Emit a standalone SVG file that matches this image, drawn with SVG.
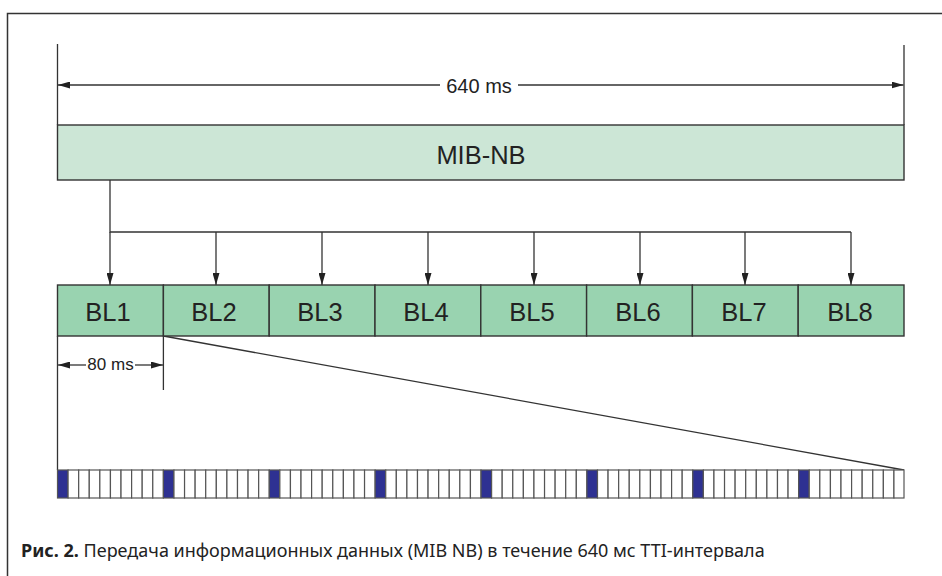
<svg xmlns="http://www.w3.org/2000/svg" width="942" height="576" viewBox="0 0 942 576">
<style>
.ln{stroke:#333;stroke-width:1.3;fill:none}
.mib{fill:#cce6d6;stroke:#333;stroke-width:1.4}
.bl{fill:#99d3b0;stroke:#333;stroke-width:1.4}
.lbl{font-family:"Liberation Sans",Arial,Helvetica,sans-serif;fill:#222;text-anchor:middle}
.big{font-size:25.5px}
.w{fill:#fff;stroke:#555;stroke-width:1.2}
.f{fill:#2e3192;stroke:#555;stroke-width:1.2}
.cap{font-family:"Noto Sans","Open Sans",sans-serif;font-size:18px;fill:#222}
</style>
<defs>
<marker id="ah" viewBox="0 0 12 7" refX="12" refY="3.5" markerWidth="12" markerHeight="7" markerUnits="userSpaceOnUse" orient="auto-start-reverse">
<path d="M0,0 L12,3.5 L0,7 Z" fill="#222"/>
</marker>
</defs>
<rect width="942" height="576" fill="#fff"/>
<path d="M7.5,576 V13.5 H942" fill="none" stroke="#333" stroke-width="1.5"/>

<g id="dim640">
<path class="ln" d="M57.5,44 V125 M904,45 V125"/>
<path class="ln" d="M58,85 H440" marker-start="url(#ah)"/>
<path class="ln" d="M518,85 H903.5" marker-end="url(#ah)"/>
<text class="lbl" x="479" y="92.5" font-size="20">640 ms</text>
</g>

<g id="mib">
<rect class="mib" x="57.5" y="125" width="846.5" height="55"/>
<text class="lbl big" x="481" y="164">MIB-NB</text>
</g>

<g id="connectors">
<path class="ln" d="M110,180 V232 H851"/>
<path class="ln" d="M110,232 V285" marker-end="url(#ah)"/>
<path class="ln" d="M216,232 V285" marker-end="url(#ah)"/>
<path class="ln" d="M322,232 V285" marker-end="url(#ah)"/>
<path class="ln" d="M428,232 V285" marker-end="url(#ah)"/>
<path class="ln" d="M534,232 V285" marker-end="url(#ah)"/>
<path class="ln" d="M640,232 V285" marker-end="url(#ah)"/>
<path class="ln" d="M745,232 V285" marker-end="url(#ah)"/>
<path class="ln" d="M851,232 V285" marker-end="url(#ah)"/>
<path class="ln" d="M163.4,336 L904,470"/>
</g>

<g id="bl1"><rect class="bl" x="57.5" y="285" width="105.9" height="51"/><text class="lbl big" x="108" y="321">BL1</text></g>
<g id="bl2"><rect class="bl" x="163.4" y="285" width="105.8" height="51"/><text class="lbl big" x="214" y="321">BL2</text></g>
<g id="bl3"><rect class="bl" x="269.2" y="285" width="105.8" height="51"/><text class="lbl big" x="320" y="321">BL3</text></g>
<g id="bl4"><rect class="bl" x="375" y="285" width="105.8" height="51"/><text class="lbl big" x="426" y="321">BL4</text></g>
<g id="bl5"><rect class="bl" x="480.8" y="285" width="105.8" height="51"/><text class="lbl big" x="532" y="321">BL5</text></g>
<g id="bl6"><rect class="bl" x="586.6" y="285" width="105.8" height="51"/><text class="lbl big" x="638" y="321">BL6</text></g>
<g id="bl7"><rect class="bl" x="692.4" y="285" width="105.8" height="51"/><text class="lbl big" x="744" y="321">BL7</text></g>
<g id="bl8"><rect class="bl" x="798.2" y="285" width="105.8" height="51"/><text class="lbl big" x="850" y="321">BL8</text></g>

<g id="dim80">
<path class="ln" d="M57.5,336 V470 M163.4,336 V390"/>
<path class="ln" d="M58,365 H86" marker-start="url(#ah)"/>
<path class="ln" d="M135,365 H163" marker-end="url(#ah)"/>
<text class="lbl" x="110.5" y="369.5" font-size="17">80 ms</text>
</g>

<g id="strip">
<rect class="f" x="57.5" y="470" width="10.59" height="28"/>
<rect class="w" x="68.09" y="470" width="10.59" height="28"/>
<rect class="w" x="78.68" y="470" width="10.59" height="28"/>
<rect class="w" x="89.26" y="470" width="10.59" height="28"/>
<rect class="w" x="99.85" y="470" width="10.59" height="28"/>
<rect class="w" x="110.44" y="470" width="10.59" height="28"/>
<rect class="w" x="121.03" y="470" width="10.59" height="28"/>
<rect class="w" x="131.62" y="470" width="10.59" height="28"/>
<rect class="w" x="142.2" y="470" width="10.59" height="28"/>
<rect class="w" x="152.79" y="470" width="10.59" height="28"/>
<rect class="f" x="163.38" y="470" width="10.59" height="28"/>
<rect class="w" x="173.97" y="470" width="10.59" height="28"/>
<rect class="w" x="184.56" y="470" width="10.59" height="28"/>
<rect class="w" x="195.14" y="470" width="10.59" height="28"/>
<rect class="w" x="205.73" y="470" width="10.59" height="28"/>
<rect class="w" x="216.32" y="470" width="10.59" height="28"/>
<rect class="w" x="226.91" y="470" width="10.59" height="28"/>
<rect class="w" x="237.5" y="470" width="10.59" height="28"/>
<rect class="w" x="248.08" y="470" width="10.59" height="28"/>
<rect class="w" x="258.67" y="470" width="10.59" height="28"/>
<rect class="f" x="269.26" y="470" width="10.59" height="28"/>
<rect class="w" x="279.85" y="470" width="10.59" height="28"/>
<rect class="w" x="290.44" y="470" width="10.59" height="28"/>
<rect class="w" x="301.02" y="470" width="10.59" height="28"/>
<rect class="w" x="311.61" y="470" width="10.59" height="28"/>
<rect class="w" x="322.2" y="470" width="10.59" height="28"/>
<rect class="w" x="332.79" y="470" width="10.59" height="28"/>
<rect class="w" x="343.38" y="470" width="10.59" height="28"/>
<rect class="w" x="353.96" y="470" width="10.59" height="28"/>
<rect class="w" x="364.55" y="470" width="10.59" height="28"/>
<rect class="f" x="375.14" y="470" width="10.59" height="28"/>
<rect class="w" x="385.73" y="470" width="10.59" height="28"/>
<rect class="w" x="396.32" y="470" width="10.59" height="28"/>
<rect class="w" x="406.9" y="470" width="10.59" height="28"/>
<rect class="w" x="417.49" y="470" width="10.59" height="28"/>
<rect class="w" x="428.08" y="470" width="10.59" height="28"/>
<rect class="w" x="438.67" y="470" width="10.59" height="28"/>
<rect class="w" x="449.26" y="470" width="10.59" height="28"/>
<rect class="w" x="459.84" y="470" width="10.59" height="28"/>
<rect class="w" x="470.43" y="470" width="10.59" height="28"/>
<rect class="f" x="481.02" y="470" width="10.59" height="28"/>
<rect class="w" x="491.61" y="470" width="10.59" height="28"/>
<rect class="w" x="502.2" y="470" width="10.59" height="28"/>
<rect class="w" x="512.78" y="470" width="10.59" height="28"/>
<rect class="w" x="523.37" y="470" width="10.59" height="28"/>
<rect class="w" x="533.96" y="470" width="10.59" height="28"/>
<rect class="w" x="544.55" y="470" width="10.59" height="28"/>
<rect class="w" x="555.14" y="470" width="10.59" height="28"/>
<rect class="w" x="565.72" y="470" width="10.59" height="28"/>
<rect class="w" x="576.31" y="470" width="10.59" height="28"/>
<rect class="f" x="586.9" y="470" width="10.59" height="28"/>
<rect class="w" x="597.49" y="470" width="10.59" height="28"/>
<rect class="w" x="608.08" y="470" width="10.59" height="28"/>
<rect class="w" x="618.66" y="470" width="10.59" height="28"/>
<rect class="w" x="629.25" y="470" width="10.59" height="28"/>
<rect class="w" x="639.84" y="470" width="10.59" height="28"/>
<rect class="w" x="650.43" y="470" width="10.59" height="28"/>
<rect class="w" x="661.02" y="470" width="10.59" height="28"/>
<rect class="w" x="671.6" y="470" width="10.59" height="28"/>
<rect class="w" x="682.19" y="470" width="10.59" height="28"/>
<rect class="f" x="692.78" y="470" width="10.59" height="28"/>
<rect class="w" x="703.37" y="470" width="10.59" height="28"/>
<rect class="w" x="713.96" y="470" width="10.59" height="28"/>
<rect class="w" x="724.54" y="470" width="10.59" height="28"/>
<rect class="w" x="735.13" y="470" width="10.59" height="28"/>
<rect class="w" x="745.72" y="470" width="10.59" height="28"/>
<rect class="w" x="756.31" y="470" width="10.59" height="28"/>
<rect class="w" x="766.9" y="470" width="10.59" height="28"/>
<rect class="w" x="777.48" y="470" width="10.59" height="28"/>
<rect class="w" x="788.07" y="470" width="10.59" height="28"/>
<rect class="f" x="798.66" y="470" width="10.59" height="28"/>
<rect class="w" x="809.25" y="470" width="10.59" height="28"/>
<rect class="w" x="819.84" y="470" width="10.59" height="28"/>
<rect class="w" x="830.42" y="470" width="10.59" height="28"/>
<rect class="w" x="841.01" y="470" width="10.59" height="28"/>
<rect class="w" x="851.6" y="470" width="10.59" height="28"/>
<rect class="w" x="862.19" y="470" width="10.59" height="28"/>
<rect class="w" x="872.78" y="470" width="10.59" height="28"/>
<rect class="w" x="883.36" y="470" width="10.59" height="28"/>
<rect class="w" x="893.95" y="470" width="10.05" height="28"/>
</g>

<text class="cap" x="21" y="557"><tspan font-weight="bold">Рис. 2.</tspan> Передача информационных данных (MIB NB) в течение 640 мс TTI-интервала</text>
</svg>
